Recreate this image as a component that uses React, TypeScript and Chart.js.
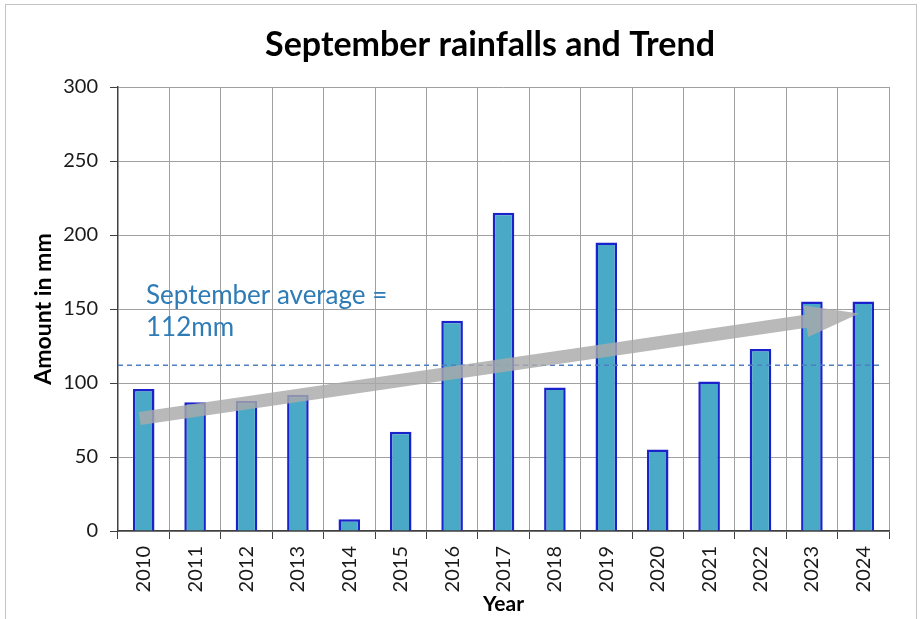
import React, { useEffect, useRef } from "react";
import { Chart, registerables } from "chart.js";

Chart.register(...registerables);

const years = ["2010", "2011", "2012", "2013", "2014", "2015", "2016", "2017", "2018", "2019", "2020", "2021", "2022", "2023", "2024"];
const rainfall = [96, 87, 88, 92, 8, 67, 142, 215, 97, 195, 55, 101, 123, 155, 155];
const septemberAverage = 112;
const averageLabelLines = ["September average =", "112mm"];
const trendStartValue = 76;
const trendEndValue = 147;
const yTickMin = 0;
const yTickMax = 300;
const yTickStep = 50;
const chartTitle = "September rainfalls and Trend";
const xAxisTitle = "Year";
const yAxisTitle = "Amount in mm";

const FONT = "Lato, 'Open Sans', 'Noto Sans', sans-serif";

const overlayPlugin = {
  id: "overlay",
  beforeDraw(chart: any) {
    const ctx = chart.ctx;
    ctx.save();
    ctx.fillStyle = "#ffffff";
    ctx.fillRect(0, 0, chart.width, chart.height);
    ctx.strokeStyle = "#c4c4c4";
    ctx.lineWidth = 1;
    ctx.strokeRect(5.5, 4.5, 911, 620);
    ctx.fillStyle = "#000000";
    ctx.font = `bold 34px ${FONT}`;
    ctx.textAlign = "center";
    ctx.textBaseline = "middle";
    ctx.fillText(chartTitle, 490, 45);
    ctx.restore();
  },
  afterDatasetsDraw(chart: any) {
    const ctx = chart.ctx;
    const xs = chart.scales.x;
    const ys = chart.scales.y;
    const area = chart.chartArea;
    ctx.save();

    // average dashed line
    const ya = ys.getPixelForValue(septemberAverage);
    ctx.strokeStyle = "#4f7fbf";
    ctx.lineWidth = 1.5;
    ctx.setLineDash([5, 4]);
    ctx.beginPath();
    ctx.moveTo(area.left, ya);
    ctx.lineTo(area.right - 6, ya);
    ctx.stroke();
    ctx.setLineDash([]);

    // label
    ctx.fillStyle = "#2e7bb6";
    ctx.font = `26px ${FONT}`;
    ctx.textAlign = "left";
    ctx.textBaseline = "middle";
    ctx.fillText(averageLabelLines[0], area.left + 28, ya - 70);
    ctx.fillText(averageLabelLines[1], area.left + 28, ya - 38);

    // trend arrow
    const x1 = xs.getPixelForValue(0) - 4;
    const y1 = ys.getPixelForValue(trendStartValue);
    const x2 = xs.getPixelForValue(years.length - 1) - 4;
    const y2 = ys.getPixelForValue(trendEndValue);
    const dx = x2 - x1;
    const dy = y2 - y1;
    const len = Math.hypot(dx, dy);
    const ux = dx / len;
    const uy = dy / len;
    const nx = -uy;
    const ny = ux;
    const bodyHalf = 6.5;
    const headLen = 54;
    const headHalf = 16;
    const bx = x2 - ux * headLen;
    const by = y2 - uy * headLen;
    ctx.fillStyle = "rgba(170,170,170,0.82)";
    ctx.beginPath();
    ctx.moveTo(x1 + nx * bodyHalf, y1 + ny * bodyHalf);
    ctx.lineTo(bx + nx * bodyHalf, by + ny * bodyHalf);
    ctx.lineTo(bx + nx * headHalf, by + ny * headHalf);
    ctx.lineTo(x2, y2);
    ctx.lineTo(bx - nx * headHalf, by - ny * headHalf);
    ctx.lineTo(bx - nx * bodyHalf, by - ny * bodyHalf);
    ctx.lineTo(x1 - nx * bodyHalf, y1 - ny * bodyHalf);
    ctx.closePath();
    ctx.fill();

    ctx.restore();
  },
};

export default function App() {
  const canvasRef = useRef<HTMLCanvasElement | null>(null);

  useEffect(() => {
    document.body.style.margin = "0";
    const canvas = canvasRef.current;
    if (!canvas) return;
    const chart = new Chart(canvas, {
      type: "bar",
      data: {
        labels: years,
        datasets: [
          {
            label: "Rainfall",
            data: rainfall,
            backgroundColor: "#4aa9c6",
            borderColor: "#1a22cc",
            borderWidth: 2.5,
            barPercentage: 0.42,
            categoryPercentage: 1,
          },
        ],
      },
      options: {
        animation: false,
        responsive: true,
        maintainAspectRatio: false,
        layout: { padding: { left: 30, right: 32, top: 87, bottom: 0 } },
        plugins: {
          legend: { display: false },
          tooltip: { enabled: false },
          title: { display: false },
        },
        scales: {
          x: {
            grid: { offset: true, color: "#a0a0a0", lineWidth: 1, tickLength: 8, tickColor: "#404040" },
            border: { color: "#404040", width: 1.5 },
            ticks: {
              font: { family: FONT, size: 20 },
              color: "#1a1a1a",
              minRotation: 90,
              maxRotation: 90,
              padding: 7,
              autoSkip: false,
            },
            title: {
              display: true,
              text: xAxisTitle,
              font: { family: FONT, size: 21, weight: "bold" },
              color: "#000000",
              padding: { top: 0, bottom: 2 },
            },
            afterFit: (scale: any) => {
              scale.height = 88;
            },
          },
          y: {
            min: yTickMin,
            max: yTickMax,
            grid: { color: "#a0a0a0", lineWidth: 1, tickLength: 8, tickColor: "#404040" },
            border: { color: "#404040", width: 1.5 },
            ticks: {
              stepSize: yTickStep,
              font: { family: FONT, size: 20 },
              color: "#1a1a1a",
              padding: 12,
            },
            title: {
              display: true,
              text: yAxisTitle,
              font: { family: FONT, size: 23, weight: "bold" },
              color: "#000000",
              padding: 0,
            },
            afterFit: (scale: any) => {
              scale.width = 88;
            },
          },
        },
      },
      plugins: [overlayPlugin],
    });
    return () => chart.destroy();
  }, []);

  return (
    <div style={{ width: 921, height: 619, position: "relative" }}>
      <canvas ref={canvasRef} />
    </div>
  );
}
